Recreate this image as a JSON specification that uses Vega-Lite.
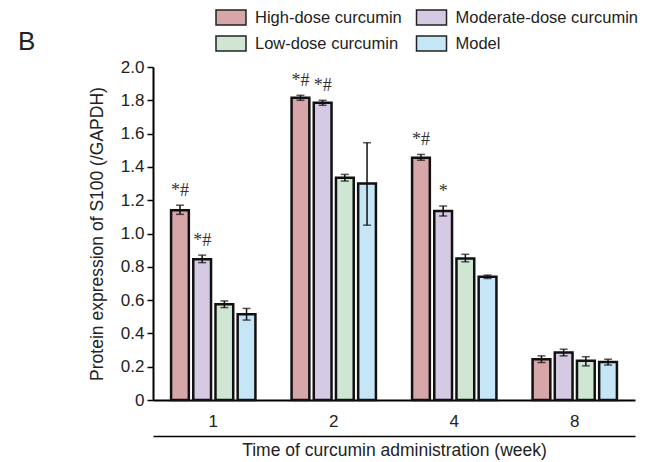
{
  "$schema": "https://vega.github.io/schema/vega-lite/v6.json",
  "width": 482,
  "height": 333,
  "autosize": {"type": "none"},
  "padding": {"left": 153, "top": 67, "right": 19, "bottom": 62},
  "background": "white",
  "title": {"text": "B", "anchor": "start", "frame": "group", "fontSize": 26, "font": "Liberation Sans", "fontWeight": "normal", "color": "#222", "dx": -135, "dy": 50},
  "config": {
    "view": {"stroke": null},
    "axis": {"labelFont": "Liberation Sans", "titleFont": "Liberation Sans", "labelFontSize": 17, "titleFontSize": 17.5, "titleFontWeight": "normal", "labelColor": "#222", "titleColor": "#222", "domainColor": "#000", "tickColor": "#000", "domainWidth": 2, "tickWidth": 1.5, "grid": false, "labelOverlap": false},
    "legend": {"orient": "none", "legendX": 69.5, "legendY": -58, "columns": 2, "padding": 0, "columnPadding": 10.5, "rowPadding": 5, "symbolType": "M-2,-1H2V1H-2Z", "symbolSize": 225, "symbolStrokeColor": "#222", "symbolStrokeWidth": 1.5, "symbolOpacity": 1, "labelFont": "Liberation Sans", "labelFontSize": 16.5, "labelColor": "#222", "labelOffset": 15.5, "labelLimit": 300}
  },
  "data": {"values": [
    {"week": "1", "group": "High-dose curcumin", "value": 1.14, "lo": 1.115, "hi": 1.17, "sig": "*#"},
    {"week": "1", "group": "Moderate-dose curcumin", "value": 0.845, "lo": 0.825, "hi": 0.87, "sig": "*#"},
    {"week": "1", "group": "Low-dose curcumin", "value": 0.575, "lo": 0.555, "hi": 0.595, "sig": ""},
    {"week": "1", "group": "Model", "value": 0.515, "lo": 0.48, "hi": 0.55, "sig": ""},
    {"week": "2", "group": "High-dose curcumin", "value": 1.815, "lo": 1.8, "hi": 1.83, "sig": "*#"},
    {"week": "2", "group": "Moderate-dose curcumin", "value": 1.785, "lo": 1.77, "hi": 1.8, "sig": "*#"},
    {"week": "2", "group": "Low-dose curcumin", "value": 1.335, "lo": 1.315, "hi": 1.355, "sig": ""},
    {"week": "2", "group": "Model", "value": 1.3, "lo": 1.05, "hi": 1.545, "sig": ""},
    {"week": "4", "group": "High-dose curcumin", "value": 1.455, "lo": 1.44, "hi": 1.475, "sig": "*#"},
    {"week": "4", "group": "Moderate-dose curcumin", "value": 1.135, "lo": 1.105, "hi": 1.165, "sig": "*"},
    {"week": "4", "group": "Low-dose curcumin", "value": 0.85, "lo": 0.83, "hi": 0.875, "sig": ""},
    {"week": "4", "group": "Model", "value": 0.74, "lo": 0.73, "hi": 0.75, "sig": ""},
    {"week": "8", "group": "High-dose curcumin", "value": 0.245, "lo": 0.225, "hi": 0.265, "sig": ""},
    {"week": "8", "group": "Moderate-dose curcumin", "value": 0.285, "lo": 0.265, "hi": 0.305, "sig": ""},
    {"week": "8", "group": "Low-dose curcumin", "value": 0.235, "lo": 0.205, "hi": 0.26, "sig": ""},
    {"week": "8", "group": "Model", "value": 0.228, "lo": 0.21, "hi": 0.245, "sig": ""}
  ]},
  "resolve": {"axis": {"x": "independent"}},
  "layer": [
    {
      "mark": {"type": "bar", "stroke": "#111", "strokeWidth": 2.5},
      "encoding": {
        "x": {"field": "week", "type": "ordinal", "sort": ["1", "2", "4", "8"], "scale": {"paddingInner": 0.3, "paddingOuter": 0.15}, "axis": {"orient": "bottom", "title": null, "ticks": false, "tickSize": 0, "labelPadding": 13, "labelAngle": 0}},
        "xOffset": {"field": "group", "type": "nominal", "sort": ["High-dose curcumin", "Moderate-dose curcumin", "Low-dose curcumin", "Model"], "scale": {"paddingInner": 0.2}},
        "y": {"field": "value", "type": "quantitative", "scale": {"domain": [0, 2], "nice": false}, "axis": {"title": "Protein expression of S100 (/GAPDH)", "values": [0, 0.2, 0.4, 0.6, 0.8, 1.0, 1.2, 1.4, 1.6, 1.8, 2.0], "labelExpr": "datum.value == 0 ? '0' : format(datum.value, '.1f')", "tickSize": 6, "labelPadding": 3, "titlePadding": 14}},
        "color": {"field": "group", "type": "nominal", "scale": {"domain": ["High-dose curcumin", "Low-dose curcumin", "Moderate-dose curcumin", "Model"], "range": ["#d6a6a8", "#cfe7d2", "#d5c9e3", "#c4e6f7"]}, "legend": {"title": null}}
      }
    },
    {
      "mark": {"type": "rule", "color": "#111", "strokeWidth": 1.5},
      "encoding": {
        "x": {"field": "week", "type": "ordinal", "sort": ["1", "2", "4", "8"], "axis": null},
        "xOffset": {"field": "group", "type": "nominal", "sort": ["High-dose curcumin", "Moderate-dose curcumin", "Low-dose curcumin", "Model"]},
        "y": {"field": "lo", "type": "quantitative", "axis": {"title": "Protein expression of S100 (/GAPDH)", "values": [0, 0.2, 0.4, 0.6, 0.8, 1.0, 1.2, 1.4, 1.6, 1.8, 2.0], "labelExpr": "datum.value == 0 ? '0' : format(datum.value, '.1f')", "tickSize": 6, "labelPadding": 3, "titlePadding": 14}},
        "y2": {"field": "hi"}
      }
    },
    {
      "mark": {"type": "tick", "color": "#111", "thickness": 1.5, "size": 8},
      "encoding": {
        "x": {"field": "week", "type": "ordinal", "sort": ["1", "2", "4", "8"], "axis": null},
        "xOffset": {"field": "group", "type": "nominal", "sort": ["High-dose curcumin", "Moderate-dose curcumin", "Low-dose curcumin", "Model"]},
        "y": {"field": "lo", "type": "quantitative", "axis": {"title": "Protein expression of S100 (/GAPDH)", "values": [0, 0.2, 0.4, 0.6, 0.8, 1.0, 1.2, 1.4, 1.6, 1.8, 2.0], "labelExpr": "datum.value == 0 ? '0' : format(datum.value, '.1f')", "tickSize": 6, "labelPadding": 3, "titlePadding": 14}}
      }
    },
    {
      "mark": {"type": "tick", "color": "#111", "thickness": 1.5, "size": 8},
      "encoding": {
        "x": {"field": "week", "type": "ordinal", "sort": ["1", "2", "4", "8"], "axis": null},
        "xOffset": {"field": "group", "type": "nominal", "sort": ["High-dose curcumin", "Moderate-dose curcumin", "Low-dose curcumin", "Model"]},
        "y": {"field": "hi", "type": "quantitative", "axis": {"title": "Protein expression of S100 (/GAPDH)", "values": [0, 0.2, 0.4, 0.6, 0.8, 1.0, 1.2, 1.4, 1.6, 1.8, 2.0], "labelExpr": "datum.value == 0 ? '0' : format(datum.value, '.1f')", "tickSize": 6, "labelPadding": 3, "titlePadding": 14}}
      }
    },
    {
      "mark": {"type": "text", "baseline": "bottom", "dy": -5, "font": "Liberation Serif", "fontSize": 18, "color": "#333"},
      "encoding": {
        "x": {"field": "week", "type": "ordinal", "sort": ["1", "2", "4", "8"], "axis": {"orient": "bottom", "offset": 36, "labels": false, "ticks": false, "domain": true, "domainWidth": 1.5, "title": "Time of curcumin administration (week)", "titlePadding": 5}},
        "xOffset": {"field": "group", "type": "nominal", "sort": ["High-dose curcumin", "Moderate-dose curcumin", "Low-dose curcumin", "Model"]},
        "y": {"field": "hi", "type": "quantitative", "axis": {"title": "Protein expression of S100 (/GAPDH)", "values": [0, 0.2, 0.4, 0.6, 0.8, 1.0, 1.2, 1.4, 1.6, 1.8, 2.0], "labelExpr": "datum.value == 0 ? '0' : format(datum.value, '.1f')", "tickSize": 6, "labelPadding": 3, "titlePadding": 14}},
        "text": {"field": "sig"}
      }
    }
  ]
}
